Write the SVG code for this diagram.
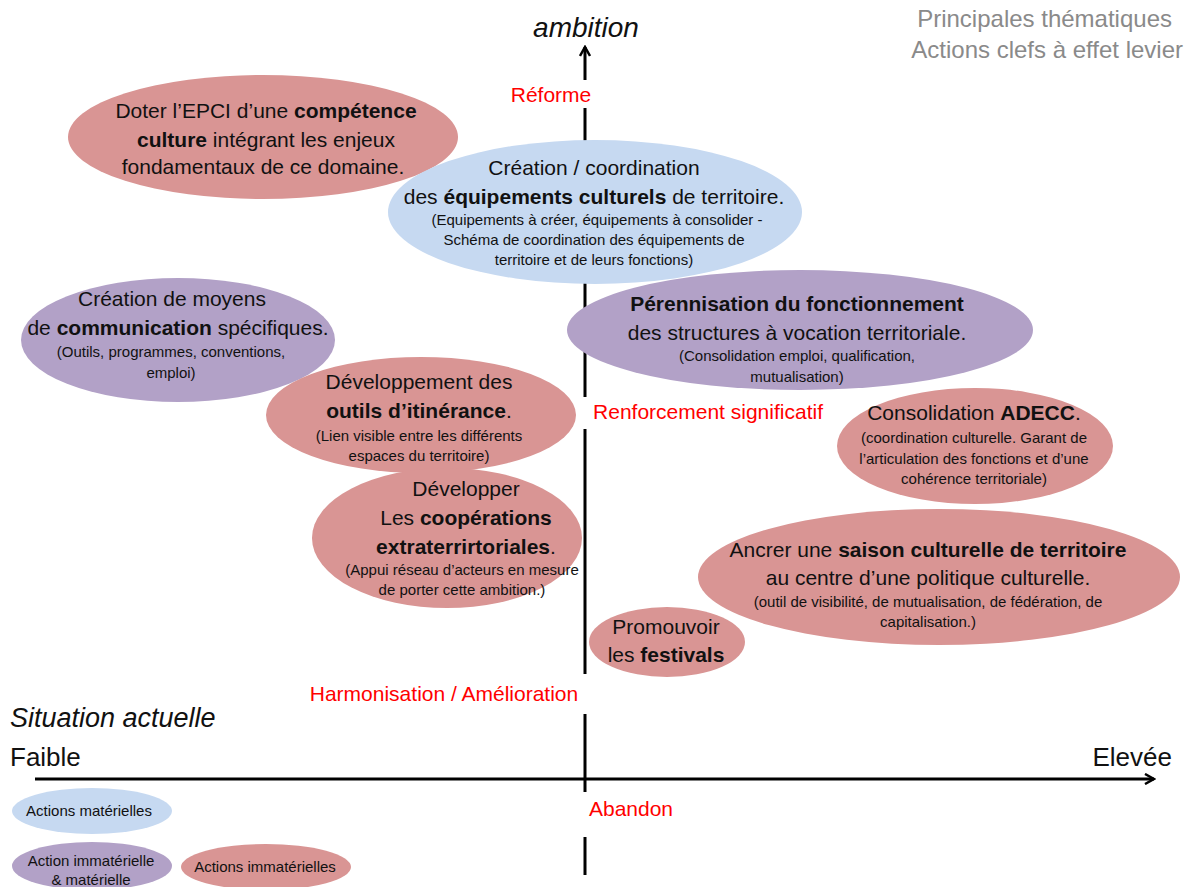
<svg xmlns="http://www.w3.org/2000/svg" width="1189" height="887" viewBox="0 0 1189 887">
<style>
text{font-family:"Liberation Sans",Arial,sans-serif;fill:#111;text-anchor:middle}
.m{font-size:21px}
.s{font-size:15px}
.b{font-weight:bold}
.red{fill:#ff0000;font-size:21px}
.r{fill:#d99594}
.bl{fill:#c6d9f1}
.p{fill:#b2a1c7}
.gray{fill:#8a8a8a;font-size:24px}
.lg{font-size:15px}
</style>
<defs>
<marker id="arr" viewBox="0 0 12 12" refX="10" refY="6" markerWidth="12" markerHeight="12" markerUnits="userSpaceOnUse" orient="auto">
<path d="M1,1 L10,6 L1,11" fill="none" stroke="#000" stroke-width="2.5"/>
</marker>
</defs>
<rect width="1189" height="887" fill="#fff"/>
<g id="axes" stroke="#000" stroke-width="3" fill="none">
<line x1="585" y1="875" x2="585" y2="47" marker-end="url(#arr)"/>
<line x1="35" y1="779" x2="1154" y2="779" marker-end="url(#arr)"/>
</g>
<g id="axis-labels">
<rect x="500" y="80" width="100" height="28" fill="#fff"/>
<text class="red" x="551" y="102">Réforme</text>
<rect x="578" y="397" width="252" height="32" fill="#fff"/>
<text class="red" x="708" y="419">Renforcement significatif</text>
<rect x="300" y="674" width="292" height="40" fill="#fff"/>
<text class="red" x="444" y="701">Harmonisation / Amélioration</text>
<rect x="578" y="792" width="100" height="45" fill="#fff"/>
<text class="red" x="631" y="816">Abandon</text>
<text x="586" y="37" style="font-size:28px;font-style:italic">ambition</text>
<text x="10" y="727" style="font-size:27px;font-style:italic;text-anchor:start">Situation actuelle</text>
<text x="10" y="766" style="font-size:26px;text-anchor:start">Faible</text>
<text x="1172" y="766" style="font-size:26px;text-anchor:end">Elevée</text>
<text class="gray" x="1172" y="27" style="text-anchor:end">Principales thématiques</text>
<text class="gray" x="1183" y="58" style="text-anchor:end">Actions clefs à effet levier</text>
</g>
<g id="n-competence">
<ellipse class="r" cx="263" cy="137" rx="195" ry="62"/>
<text class="m" x="266" y="118">Doter l’EPCI d’une <tspan class="b">compétence</tspan></text>
<text class="m" x="266" y="147"><tspan class="b">culture</tspan> intégrant les enjeux</text>
<text class="m" x="263" y="174">fondamentaux de ce domaine.</text>
</g>
<g id="n-equipements">
<ellipse class="bl" cx="595" cy="212" rx="207" ry="72"/>
<text class="m" x="594" y="175">Création / coordination</text>
<text class="m" x="594" y="204">des <tspan class="b">équipements culturels</tspan> de territoire.</text>
<text class="s" x="597" y="225">(Equipements à créer, équipements à consolider -</text>
<text class="s" x="594" y="245">Schéma de coordination des équipements de</text>
<text class="s" x="594" y="265">territoire et de leurs fonctions)</text>
</g>
<g id="n-communication">
<ellipse class="p" cx="178" cy="340" rx="157" ry="62"/>
<text class="m" x="172" y="306">Création de moyens</text>
<text class="m" x="178" y="335">de <tspan class="b">communication</tspan> spécifiques.</text>
<text class="s" x="171" y="357">(Outils, programmes, conventions,</text>
<text class="s" x="171" y="378">emploi)</text>
</g>
<g id="n-perennisation">
<ellipse class="p" cx="800" cy="330" rx="233" ry="60"/>
<text class="m b" x="797" y="311">Pérennisation du fonctionnement</text>
<text class="m" x="797" y="340">des structures à vocation territoriale.</text>
<text class="s" x="797" y="361">(Consolidation emploi, qualification,</text>
<text class="s" x="797" y="382">mutualisation)</text>
</g>
<g id="n-itinerance">
<ellipse class="r" cx="421" cy="415" rx="155" ry="58"/>
<text class="m" x="419" y="389">Développement des</text>
<text class="m" x="419" y="418"><tspan class="b">outils d’itinérance</tspan>.</text>
<text class="s" x="419" y="441">(Lien  visible entre les différents</text>
<text class="s" x="419" y="461">espaces du territoire)</text>
</g>
<g id="n-adecc">
<ellipse class="r" cx="975" cy="446" rx="138" ry="58"/>
<text class="m" x="974" y="420">Consolidation <tspan class="b">ADECC</tspan>.</text>
<text class="s" x="974" y="443">(coordination culturelle. Garant de</text>
<text class="s" x="974" y="464">l’articulation des fonctions et d’une</text>
<text class="s" x="974" y="484">cohérence territoriale)</text>
</g>
<g id="n-cooperations">
<ellipse class="r" cx="447" cy="538" rx="135" ry="70"/>
<text class="m" x="466" y="496">Développer</text>
<text class="m" x="466" y="525">Les <tspan class="b">coopérations</tspan></text>
<text class="m" x="466" y="554"><tspan class="b">extraterrirtoriales</tspan>.</text>
<text class="s" x="462" y="575">(Appui réseau d’acteurs en mesure</text>
<text class="s" x="462" y="595">de porter cette ambition.)</text>
</g>
<g id="n-saison">
<ellipse class="r" cx="939" cy="577" rx="241" ry="68"/>
<text class="m" x="928" y="557">Ancrer une <tspan class="b">saison culturelle de territoire</tspan></text>
<text class="m" x="928" y="585">au centre d’une politique culturelle.</text>
<text class="s" x="928" y="607">(outil de visibilité, de mutualisation, de fédération, de</text>
<text class="s" x="928" y="627">capitalisation.)</text>
</g>
<g id="n-festivals">
<ellipse class="r" cx="667" cy="642" rx="78" ry="35"/>
<text class="m" x="666" y="634">Promouvoir</text>
<text class="m" x="666" y="662">les <tspan class="b">festivals</tspan></text>
</g>
<g id="legend">
<ellipse class="bl" cx="92" cy="811" rx="80" ry="23"/>
<text class="lg" x="89" y="816">Actions matérielles</text>
<ellipse class="p" cx="92" cy="866" rx="80" ry="24"/>
<text class="lg" x="91" y="866">Action immatérielle</text>
<text class="lg" x="91" y="885">&amp; matérielle</text>
<ellipse class="r" cx="266" cy="867" rx="85" ry="23"/>
<text class="lg" x="265" y="872">Actions immatérielles</text>
</g>
</svg>
